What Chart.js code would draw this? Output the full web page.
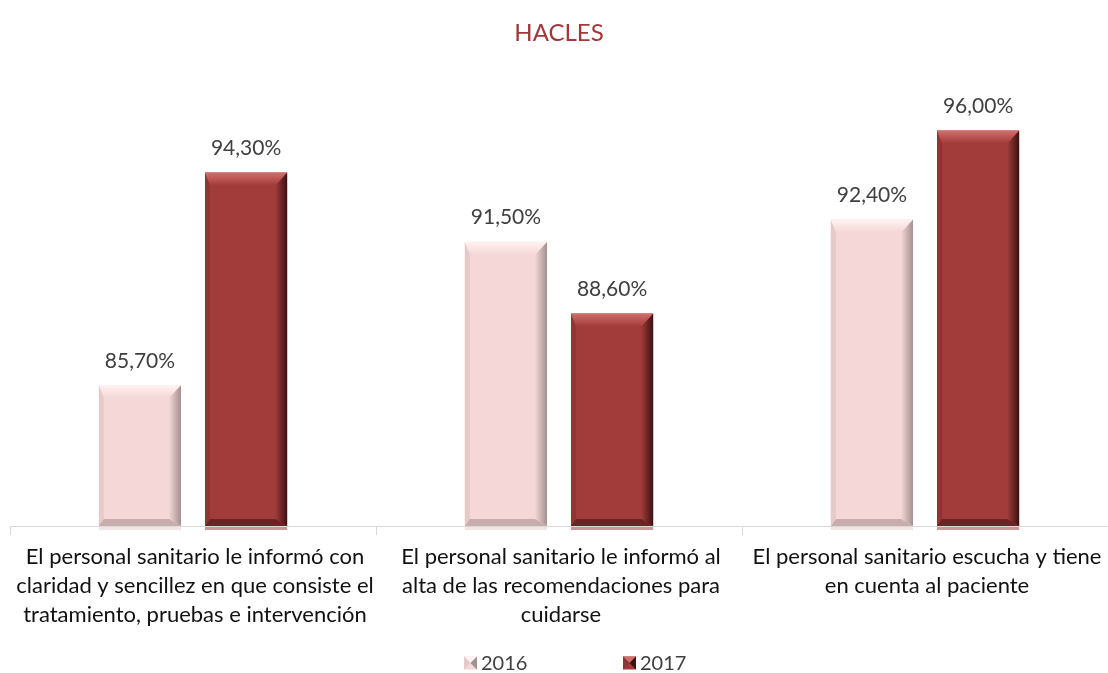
<!DOCTYPE html>
<html>
<head>
<meta charset="utf-8">
<script src="https://cdn.jsdelivr.net/npm/chart.js@4.4.1/dist/chart.umd.min.js"></script>
<style>
  body { margin: 0; background: #fff; }
  #wrap { width: 1108px; height: 673px; }
</style>
</head>
<body>
<div id="wrap"><canvas id="hacles" width="1108" height="673"></canvas></div>
<script>
const categories = [
    ['El personal sanitario le informó con', 'claridad y sencillez en que consiste el', 'tratamiento, pruebas e intervención'],
    ['El personal sanitario le informó al', 'alta de las recomendaciones para', 'cuidarse'],
    ['El personal sanitario escucha y tiene', 'en cuenta al paciente']
];
const seriesNames = ['2016', '2017'];
const values2016 = [85.7, 91.5, 92.4];
const values2017 = [94.3, 88.6, 96.0];
const axisMin = 80;
const axisMax = 98;

const FONT = 'Lato, "Open Sans", sans-serif';

// colores de cada serie: base, bisel claro, bisel oscuro
const palette = {
    '2016': { base: '#F4D7D6', light: '#FFF3F2', side: '#A39090', left: '#E6CACA', bottom: '#C7AEAD' },
    '2017': { base: '#A13C3B', light: '#D26E6C', side: '#3C1111', left: '#923434', bottom: '#6B2323' }
};

const fmt = (v) => v.toFixed(2).replace('.', ',') + '%';

// bisel tipo Excel sobre cada barra
const bevelPlugin = {
    id: 'bevel',
    afterDatasetsDraw(chart) {
        const ctx = chart.ctx;
        const area = chart.chartArea;
        chart.data.datasets.forEach((ds, di) => {
            const col = palette[ds.label];
            chart.getDatasetMeta(di).data.forEach((bar) => {
                const l = bar.x - bar.width / 2, r = bar.x + bar.width / 2;
                const t = bar.y, b = Math.min(bar.base, area.bottom);
                const bt = 13, bs = 12, bl = 5, bb = 7;
                ctx.save();
                // sombra bajo el eje
                ctx.fillStyle = col.left;
                ctx.globalAlpha = 0.5;
                ctx.fillRect(l, b + 1, r - l, 3);
                ctx.globalAlpha = 1;
                // lado derecho
                let g = ctx.createLinearGradient(r - bs, 0, r, 0);
                g.addColorStop(0, col.base);
                g.addColorStop(1, col.side);
                ctx.fillStyle = g;
                ctx.beginPath();
                ctx.moveTo(r, t); ctx.lineTo(r, b); ctx.lineTo(r - bs, b - bb); ctx.lineTo(r - bs, t + bt);
                ctx.closePath(); ctx.fill();
                // izquierda
                ctx.fillStyle = col.left;
                ctx.beginPath();
                ctx.moveTo(l, t); ctx.lineTo(l + bl, t + bt); ctx.lineTo(l + bl, b - bb); ctx.lineTo(l, b);
                ctx.closePath(); ctx.fill();
                // abajo
                ctx.fillStyle = col.bottom;
                ctx.beginPath();
                ctx.moveTo(l, b); ctx.lineTo(l + bl, b - bb); ctx.lineTo(r - bs, b - bb); ctx.lineTo(r, b);
                ctx.closePath(); ctx.fill();
                // arriba
                g = ctx.createLinearGradient(0, t, 0, t + bt);
                g.addColorStop(0, col.light);
                g.addColorStop(1, col.base);
                ctx.fillStyle = g;
                ctx.beginPath();
                ctx.moveTo(l, t); ctx.lineTo(r, t); ctx.lineTo(r - bs, t + bt); ctx.lineTo(l + bl, t + bt);
                ctx.closePath(); ctx.fill();
                ctx.restore();
            });
        });
    }
};

// etiquetas de valor, etiquetas de categoria y leyenda
const textPlugin = {
    id: 'texts',
    afterDraw(chart) {
        const ctx = chart.ctx;
        ctx.save();
        ctx.textAlign = 'center';
        ctx.textBaseline = 'middle';

        ctx.font = '21px ' + FONT;
        ctx.fillStyle = '#404040';
        chart.data.datasets.forEach((ds, di) => {
            chart.getDatasetMeta(di).data.forEach((bar, i) => {
                ctx.fillText(fmt(ds.data[i]), bar.x, bar.y - 24);
            });
        });

        const xs = chart.scales.x;
        ctx.font = '22px ' + FONT;
        ctx.fillStyle = '#111';
        chart.data.labels.forEach((lines, i) => {
            const cx = xs.getPixelForTick(i) + 2;
            lines.forEach((line, j) => ctx.fillText(line, cx, 557 + j * 29));
        });

        // leyenda
        ctx.font = '20px ' + FONT;
        ctx.textAlign = 'left';
        const box = 13, gap = 4, spacing = 159;
        const startX = 464, cy = 663;
        chart.data.datasets.forEach((ds, di) => {
            const col = palette[ds.label];
            const x = startX + di * spacing, y = cy - box / 2;
            ctx.fillStyle = col.base;
            ctx.fillRect(x, y, box, box);
            ctx.fillStyle = col.light;
            ctx.beginPath(); ctx.moveTo(x, y); ctx.lineTo(x + box, y); ctx.lineTo(x + box / 2, y + box / 2); ctx.closePath(); ctx.fill();
            ctx.fillStyle = col.side;
            ctx.beginPath(); ctx.moveTo(x + box, y); ctx.lineTo(x + box, y + box); ctx.lineTo(x + box / 2, y + box / 2); ctx.closePath(); ctx.fill();
            ctx.fillStyle = col.left;
            ctx.beginPath(); ctx.moveTo(x, y); ctx.lineTo(x, y + box); ctx.lineTo(x + box / 2, y + box / 2); ctx.closePath(); ctx.fill();
            ctx.fillStyle = '#404040';
            ctx.fillText(ds.label, x + box + gap, cy + 1);
        });
        ctx.restore();
    }
};

document.addEventListener('DOMContentLoaded', () => {
    const canvas = document.getElementById('hacles');
    const ctx = canvas.getContext('2d');

    new Chart(ctx, {
        type: 'bar',
        data: {
            labels: categories,
            datasets: [
                { label: seriesNames[0], data: values2016, backgroundColor: palette['2016'].base },
                { label: seriesNames[1], data: values2017, backgroundColor: palette['2017'].base }
            ]
        },
        options: {
            responsive: false,
            animation: false,
            categoryPercentage: 0.58,
            barPercentage: 0.774,
            layout: { padding: { left: 10, right: 0, top: 0, bottom: 138 } },
            plugins: {
                legend: { display: false },
                tooltip: { enabled: false },
                title: {
                    display: true,
                    text: 'HACLES',
                    color: '#A0393A',
                    font: { family: FONT, size: 24, weight: 'normal' },
                    padding: { top: 19, bottom: 33.2 }
                }
            },
            scales: {
                x: {
                    grid: {
                        display: true,
                        drawOnChartArea: false,
                        tickLength: 9,
                        color: '#D9D9D9'
                    },
                    border: { color: '#D9D9D9', width: 1 },
                    ticks: { display: false }
                },
                y: {
                    display: false,
                    min: axisMin,
                    max: axisMax
                }
            }
        },
        plugins: [bevelPlugin, textPlugin]
    });
});
</script>
</body>
</html>
